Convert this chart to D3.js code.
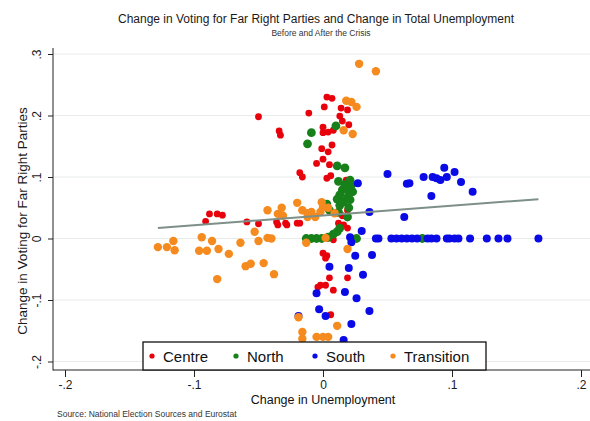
<!DOCTYPE html>
<html><head><meta charset="utf-8">
<script src="https://cdn.jsdelivr.net/npm/d3@7"></script>
<style>html,body{margin:0;padding:0;background:#fff;} svg{display:block;font-family:"Liberation Sans",Arial,sans-serif;}</style>
</head><body><svg id="c" width="590" height="421"></svg>
<script>
const groups = ["Centre", "North", "South", "Transition"];
const centre = [
 [-0.050,0.198],[-0.034,0.175],[-0.033,0.168],[-0.011,0.204],[0.003,0.230],[0.007,0.228],[0.001,0.214],
 [0.014,0.212],[0.019,0.209],[0.013,0.199],[0.015,0.191],[0.020,0.185],[0.000,0.181],[0.000,0.172],
 [0.004,0.173],[0.008,0.176],[-0.001,0.146],[0.004,0.141],[0.007,0.152],[0.000,0.129],[-0.005,0.122],
 [0.005,0.120],[-0.018,0.107],[-0.016,0.100],[0.003,0.098],[0.006,0.102],[0.018,0.095],
 [-0.088,0.040],[-0.082,0.040],[-0.078,0.038],[-0.091,0.028],[-0.059,0.027],[-0.050,0.024],[-0.036,0.027],
 [-0.035,0.022],[-0.029,0.025],[-0.028,0.022],[-0.020,0.025],[-0.018,0.025],
 [0.011,0.041],[0.019,0.046],[0.015,0.037],[0.012,0.025],[0.016,0.022],[0.019,0.017],[0.004,0.001],[0.008,-0.002],
 [0.000,-0.024],[0.003,-0.028],[0.002,-0.032],[0.005,-0.064],[0.019,-0.064],[-0.002,-0.076],[-0.004,-0.079],
 [0.002,-0.076],[0.008,-0.084],[0.006,-0.124]
];
const north = [
 [-0.009,0.172],[-0.012,0.154],[0.010,0.183],[0.011,0.118],[0.017,0.115],[0.012,0.093],[0.021,0.095],
 [0.017,0.087],[0.022,0.087],[0.015,0.079],[0.019,0.079],[0.023,0.076],[0.013,0.071],[0.019,0.067],
 [0.011,0.064],[0.016,0.059],[0.021,0.063],[0.013,0.054],[0.003,0.056],[0.005,0.046],[0.012,0.043],
 [0.019,0.035],[0.020,0.050],[0.013,0.017],[0.011,0.011],[0.008,0.007],[0.004,0.002],[-0.001,0.000],
 [-0.005,0.000],[-0.009,0.000],[-0.013,0.000],[0.026,0.000],[0.077,0.000]
];
const south = [
 [0.036,0.043],[0.027,0.090],[0.050,0.105],[0.065,0.089],[0.067,0.090],[0.078,0.100],[0.085,0.100],
 [0.088,0.098],[0.091,0.095],[0.094,0.115],[0.096,0.100],[0.102,0.108],[0.107,0.092],[0.116,0.076],
 [0.084,0.069],[0.063,0.035],
 [0.043,0],[0.053,0],[0.057,0],[0.061,0],[0.065,0],[0.069,0],[0.073,0],[0.081,0],[0.084,0],[0.088,0],
 [0.096,0],[0.098,0],[0.102,0],[0.105,0],[0.114,0],[0.127,0],[0.136,0],[0.143,0],[0.167,0],
 [0.030,0.012],[0.021,0.002],[0.022,-0.006],[0.041,0.000],[0.025,-0.028],[0.038,-0.027],[0.005,-0.046],
 [0.020,-0.048],[0.031,-0.059],[0.017,-0.087],[0.026,-0.097],[-0.005,-0.089],[-0.003,-0.115],[0.002,-0.126],
 [0.036,-0.118],[0.022,-0.139],[0.016,-0.165],[-0.019,-0.126]
];
const transition = [
 [0.028,0.284],[0.041,0.272],[0.018,0.224],[0.022,0.222],[0.026,0.214],[0.016,0.176],[0.023,0.170],
 [-0.020,0.058],[-0.001,0.059],[0.000,0.051],[-0.043,0.046],[-0.032,0.050],[-0.035,0.040],[-0.031,0.037],
 [-0.016,0.046],[-0.012,0.041],[-0.009,0.043],[-0.006,0.035],[-0.002,0.043],[-0.012,0.035],[0.004,0.050],
 [0.009,0.041],[0.019,-0.017],[-0.053,0.011],[-0.050,-0.004],[-0.043,0.001],[-0.040,0.000],[-0.064,-0.007],
 [-0.094,0.002],[-0.086,-0.004],[-0.128,-0.014],[-0.121,-0.014],[-0.116,-0.004],[-0.115,-0.019],
 [-0.096,-0.020],[-0.090,-0.020],[-0.081,-0.017],[-0.073,-0.025],[-0.060,-0.045],[-0.056,-0.041],
 [-0.046,-0.040],[-0.038,-0.058],[-0.082,-0.066],[-0.013,-0.007],[0.002,0.001],
 [-0.019,-0.128],[-0.016,-0.152],[0.011,-0.142],[-0.005,-0.160],[0.000,-0.160],[0.004,-0.160],[-0.016,-0.163]
];
const fitX = [-0.128, 0.167];
const fitY = [0.017, 0.064];
const xTicks = [-0.2, -0.1, 0, 0.1, 0.2];
const xTickLabels = ["-.2", "-.1", "0", ".1", ".2"];
const yTicks = [-0.2, -0.1, 0, 0.1, 0.2, 0.3];
const yTickLabels = ["-.2", "-.1", "0", ".1", ".2", ".3"];

const svg = d3.select("#c");
const x = d3.scaleLinear().domain([-0.2, 0.2]).range([65, 581]);
const y = d3.scaleLinear().domain([-0.2, 0.3]).range([361.5, 54]);
const axisLeftX = 53, axisBottomY = 370;

// gridlines
svg.append("g").selectAll("line").data(yTicks).join("line")
  .attr("x1", axisLeftX).attr("x2", 590)
  .attr("y1", d => y(d)).attr("y2", d => y(d))
  .attr("stroke", "#e8ebea").attr("stroke-width", 1);

// axes
const gx = svg.append("g").attr("transform", `translate(0,${axisBottomY})`)
  .call(d3.axisBottom(x).tickValues(xTicks).tickFormat((d, i) => xTickLabels[i]).tickSize(7).tickPadding(3).tickSizeOuter(0));
gx.select(".domain").remove();
gx.selectAll("line").attr("stroke", "#222");
gx.selectAll("text").attr("font-size", 12).attr("fill", "#1a1a1a").attr("font-family", "Liberation Sans, Arial, sans-serif");

const gy = svg.append("g").attr("transform", `translate(${axisLeftX},0)`)
  .call(d3.axisLeft(y).tickValues(yTicks).tickFormat((d, i) => yTickLabels[i]).tickSize(5).tickSizeOuter(0));
gy.select(".domain").remove();
gy.selectAll("line").attr("stroke", "#222");
gy.selectAll("text").attr("x", null).attr("dy", null).attr("y", null)
  .attr("text-anchor", "middle").attr("transform", "translate(-12,0) rotate(-90)")
  .attr("font-size", 12).attr("fill", "#1a1a1a").attr("font-family", "Liberation Sans, Arial, sans-serif");

svg.append("line").attr("x1", axisLeftX).attr("x2", axisLeftX).attr("y1", 48).attr("y2", axisBottomY + 0.5)
  .attr("stroke", "#222").attr("stroke-width", 1);
svg.append("line").attr("x1", axisLeftX).attr("x2", 590).attr("y1", axisBottomY).attr("y2", axisBottomY)
  .attr("stroke", "#222").attr("stroke-width", 1);

// points
const series = [
  {name: groups[0], data: centre, color: "#e8000b", r: 3.4},
  {name: groups[1], data: north, color: "#17801a", r: 4.4},
  {name: groups[2], data: south, color: "#0a0ae6", r: 4.0},
  {name: groups[3], data: transition, color: "#f58a1f", r: 4.2}
];
series.forEach(s => {
  svg.append("g").selectAll("circle").data(s.data).join("circle")
    .attr("cx", d => x(d[0])).attr("cy", d => y(d[1])).attr("r", s.r).attr("fill", s.color);
});

// fitted line
svg.append("line")
  .attr("x1", x(fitX[0])).attr("y1", y(fitY[0])).attr("x2", x(fitX[1])).attr("y2", y(fitY[1]))
  .attr("stroke", "#7d8f88").attr("stroke-width", 2);

// legend
const lg = svg.append("g");
lg.append("rect").attr("x", 143).attr("y", 342).attr("width", 343).attr("height", 28)
  .attr("fill", "#fff").attr("stroke", "#111").attr("stroke-width", 1.3);
const legX = [152, 236, 315, 393];
series.forEach((s, i) => {
  lg.append("circle").attr("cx", legX[i]).attr("cy", 356).attr("r", 2.6).attr("fill", s.color);
  lg.append("text").attr("x", legX[i] + 11).attr("y", 361.5).attr("font-size", 15).attr("fill", "#111").text(s.name);
});

// titles
svg.append("text").attr("x", 316).attr("y", 23).attr("text-anchor", "middle").attr("font-size", 12)
  .attr("fill", "#1a1a1a").text("Change in Voting for Far Right Parties and Change in Total Unemployment");
svg.append("text").attr("x", 321).attr("y", 36).attr("text-anchor", "middle").attr("font-size", 8.5)
  .attr("fill", "#333").text("Before and After the Crisis");
svg.append("text").attr("transform", "translate(27,221) rotate(-90)").attr("text-anchor", "middle")
  .attr("font-size", 13.5).attr("fill", "#1a1a1a").text("Change in Voting for Far Right Parties");
svg.append("text").attr("x", 323).attr("y", 404).attr("text-anchor", "middle").attr("font-size", 12.5)
  .attr("fill", "#111").text("Change in Unemployment");
svg.append("text").attr("x", 57).attr("y", 417).attr("font-size", 8.5)
  .attr("fill", "#333").text("Source: National Election Sources and Eurostat");
</script>
</body></html>
